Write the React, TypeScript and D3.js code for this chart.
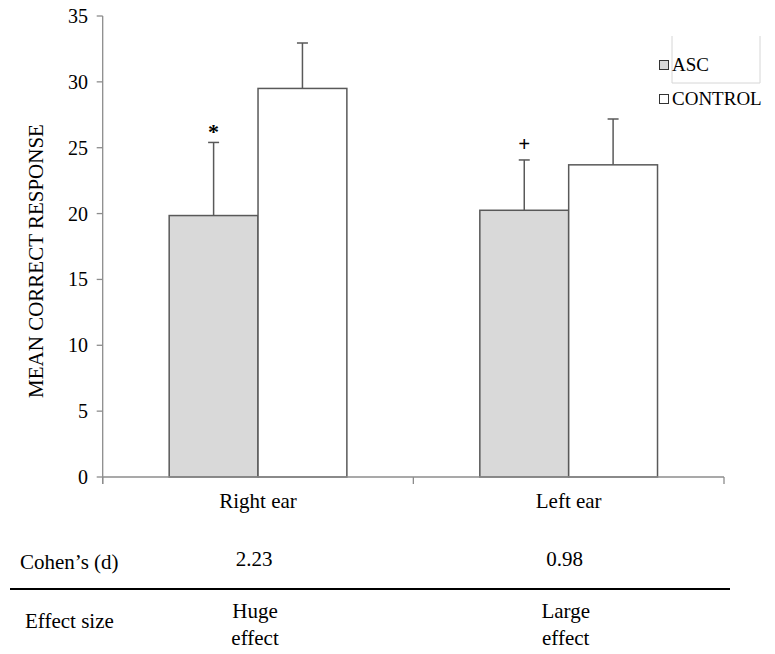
import React from 'react'
import * as d3 from 'd3'

const categories = ['Right ear', 'Left ear']
const series = ['ASC', 'CONTROL']
const ascMeans = [19.85, 20.25]
const ascErrors = [5.55, 3.82]
const controlMeans = [29.5, 23.7]
const controlErrors = [3.45, 3.48]
const markers = ['*', '+']
const cohensD = ['2.23', '0.98']
const effectLabels = [['Huge', 'effect'], ['Large', 'effect']]
const yTicks = [0, 5, 10, 15, 20, 25, 30, 35]

const colors: Record<string, string> = { ASC: '#d9d9d9', CONTROL: '#ffffff' }
const fontStyle = { fontFamily: '"Liberation Serif", serif' }

export default function App() {
  const w = 775
  const h = 654
  const margin = { top: 16, left: 102.7, right: 724, bottom: 477 }

  const yScale = d3.scaleLinear().domain([0, 35]).range([margin.bottom, margin.top])
  const x0 = d3.scaleBand().domain(categories).range([margin.left, margin.right])
  const groupW = x0.bandwidth() * 0.572
  const x1 = d3.scaleBand().domain(series).range([0, groupW])

  const rows = categories.map((c, i) => ({
    cat: c,
    bars: [
      { s: 'ASC', v: ascMeans[i], e: ascErrors[i] },
      { s: 'CONTROL', v: controlMeans[i], e: controlErrors[i] },
    ],
  }))

  const center = (c: string) => (x0(c) as number) + x0.bandwidth() / 2
  const axisColor = '#8c8c8c'
  const barStroke = '#595959'

  return (
    <svg width={w} height={h} style={{ position: 'absolute', left: 0, top: 0 }}>
      <rect width={w} height={h} fill="#fff" />
      <g fill="#000" style={fontStyle}>

      {/* y axis */}
      <line x1={margin.left} x2={margin.left} y1={margin.top} y2={margin.bottom + 7} stroke={axisColor} strokeWidth={1.3} />
      {yTicks.map(t => (
        <g key={t}>
          <line x1={margin.left - 6} x2={margin.left} y1={yScale(t)} y2={yScale(t)} stroke={axisColor} strokeWidth={1.3} />
          <text x={88} y={yScale(t) + 7} textAnchor="end" fontSize={20} style={fontStyle}>{t}</text>
        </g>
      ))}
      <text transform={`translate(43, 261) rotate(-90)`} textAnchor="middle" fontSize={21} style={fontStyle}>MEAN CORRECT RESPONSE</text>

      {/* bars */}
      {rows.map(r => (
        <g key={r.cat} transform={`translate(${center(r.cat) - groupW / 2},0)`}>
          {r.bars.map(b => {
            const bx = x1(b.s) as number
            const cx = bx + x1.bandwidth() / 2
            const top = yScale(b.v + b.e)
            return (
              <g key={b.s}>
                <rect x={bx} y={yScale(b.v)} width={x1.bandwidth()} height={yScale(0) - yScale(b.v)} fill={colors[b.s]} stroke={barStroke} strokeWidth={1.5} />
                <line x1={cx} x2={cx} y1={yScale(b.v)} y2={top} stroke={barStroke} strokeWidth={1.5} />
                <line x1={cx - 5.5} x2={cx + 5.5} y1={top} y2={top} stroke={barStroke} strokeWidth={1.5} />
              </g>
            )
          })}
        </g>
      ))}

      {/* significance markers */}
      {rows.map((r, i) => {
        const cx = center(r.cat) - groupW / 2 + (x1('ASC') as number) + x1.bandwidth() / 2
        const top = yScale(r.bars[0].v + r.bars[0].e)
        return (
          <text key={r.cat} x={cx} y={i === 0 ? top - 3 : top - 8.5} textAnchor="middle" fontSize={i === 0 ? 22 : 21} fontWeight="bold" style={fontStyle}>{markers[i]}</text>
        )
      })}

      {/* x axis */}
      <line x1={margin.left} x2={margin.right} y1={margin.bottom} y2={margin.bottom} stroke={axisColor} strokeWidth={1.3} />
      {[...categories.map(c => x0(c) as number), margin.right].map((x, i) => (
        <line key={i} x1={x} x2={x} y1={margin.bottom} y2={margin.bottom + 7} stroke={axisColor} strokeWidth={1.3} />
      ))}
      {categories.map(c => (
        <text key={c} x={center(c)} y={508} textAnchor="middle" fontSize={21} style={fontStyle}>{c}</text>
      ))}

      {/* legend */}
      <path d="M672,36 V83 H760 V36" fill="none" stroke="#d6d6d6" strokeWidth={1} />
      {series.map((s, i) => (
        <g key={s} transform={`translate(659, ${60 + i * 34})`}>
          <rect x={0.5} y={0.5} width={9} height={9} fill={colors[s]} stroke="#333" strokeWidth={1} />
          <text x={13} y={11} fontSize={19} style={fontStyle}>{s}</text>
        </g>
      ))}

      {/* table below */}
      <text x={20} y={569} fontSize={21} style={fontStyle}>Cohen’s (d)</text>
      {categories.map((c, i) => (
        <text key={c} x={center(c) - 4} y={566} textAnchor="middle" fontSize={21} style={fontStyle}>{cohensD[i]}</text>
      ))}
      <line x1={10} x2={730} y1={589} y2={589} stroke="#000" strokeWidth={2.2} />
      <text x={25} y={628} fontSize={21} style={fontStyle}>Effect size</text>
      {categories.map((c, i) => (
        <g key={c}>
          <text x={center(c) - 3} y={618} textAnchor="middle" fontSize={21} style={fontStyle}>{effectLabels[i][0]}</text>
          <text x={center(c) - 3} y={645} textAnchor="middle" fontSize={21} style={fontStyle}>{effectLabels[i][1]}</text>
        </g>
      ))}
      </g>
    </svg>
  )
}
